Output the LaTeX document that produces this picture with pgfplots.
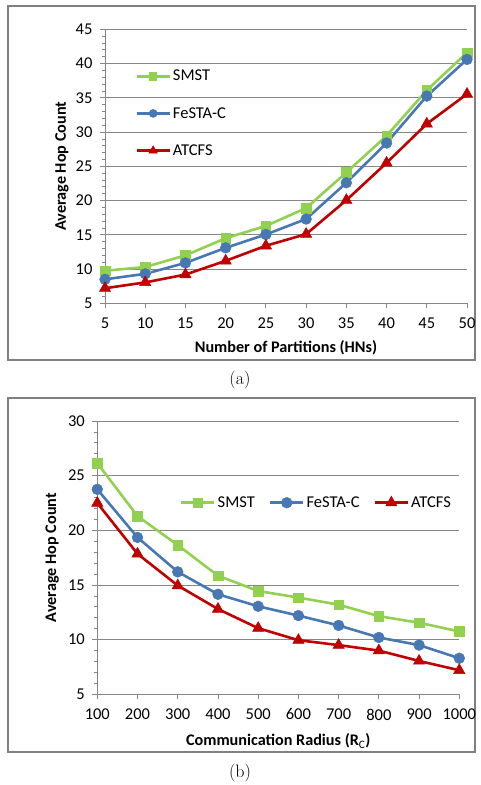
\documentclass[border=0pt]{standalone}
\usepackage{pgfplots}
\pgfplotsset{compat=1.18}
\usepackage{fontspec}
\newfontfamily\calibri{Carlito}
\definecolor{smst}{RGB}{146,208,80}
\definecolor{festa}{RGB}{72,120,180}
\definecolor{atcfs}{RGB}{192,0,0}
\definecolor{gridc}{RGB}{134,134,134}
\definecolor{framec}{RGB}{128,128,128}

\pgfplotstableread{
x smst festa atcfs
5  9.75 8.5  7.2
10 10.3 9.3  8.05
15 12.0 10.9 9.2
20 14.5 13.1 11.2
25 16.3 15.05 13.4
30 18.9 17.3 15.1
35 24.1 22.6 20.05
40 29.45 28.4 25.5
45 36.1 35.25 31.2
50 41.6 40.6 35.55
}\tabA

\pgfplotstableread{
x smst festa atcfs
100  26.15 23.75 22.5
200  21.3  19.35 17.85
300  18.65 16.2  14.95
400  15.85 14.15 12.8
500  14.45 13.05 11.05
600  13.85 12.2  9.95
700  13.2  11.3  9.5
800  12.15 10.2  9.0
900  11.55 9.5   8.05
1000 10.75 8.3   7.2
}\tabB

\newcommand{\lblfont}{\calibri\bfseries\fontsize{16.2}{17}\selectfont}

\pgfplotsset{
 hopstyle/.style={
  scale only axis, clip=false,
  axis lines*=left,
  axis line style={gridc, line width=0.8pt},
  tick style={gridc, line width=0.8pt},
  tick align=outside,
  major tick length=5pt, minor tick length=3pt,
  ymajorgrids, major grid style={gridc, line width=0.8pt},
  ymin=5,
  minor y tick num=4,
  /pgf/number format/assume math mode=true,
  /pgf/number format/1000 sep={},
  tick label style={font=\calibri\fontsize{16.5}{17}\selectfont, text=black},
  xticklabel style={yshift=-6pt},
  yticklabel style={xshift=-4pt},
  legend style={draw=none, fill=none, font=\calibri\fontsize{16.5}{17}\selectfont, text=black},
  legend cell align=left,
 },
 stSM/.style={color=smst, line width=2.6pt, mark=square*, mark size=4.8pt, mark options={line width=0.5pt}},
 stFE/.style={color=festa, line width=2.6pt, mark=*, mark size=5.4pt, mark options={line width=0.5pt}},
 stAT/.style={color=atcfs, line width=2.6pt, mark=triangle*, mark size=6.5pt, mark options={line width=0.5pt}},
}

\begin{document}
\begin{tikzpicture}
\path[use as bounding box] (0pt,0pt) rectangle (480pt,-785pt);
\draw[framec, line width=1.2pt] (8pt,-6pt) rectangle (475pt,-360pt);
\draw[framec, line width=1.2pt] (8pt,-398pt) rectangle (475pt,-752pt);
\node[font=\fontsize{18}{18}\selectfont] at (240pt,-380pt) {(a)};
\node[font=\fontsize{18}{18}\selectfont] at (240pt,-773pt) {(b)};

\begin{axis}[hopstyle, at={(105pt,-303.3pt)}, anchor=south west,
  width=362pt, height=274pt,
  xmin=5, xmax=50, ymax=45,
  xtick={5,10,...,50}, ytick={5,10,...,45},
  xlabel={\lblfont Number of Partitions (HNs)},
  xlabel style={at={(axis description cs:0.5,-0.1631)}, anchor=center},
  legend image code/.code={\draw[mark repeat=2,mark phase=2, every mark/.append style={scale=0.75}] plot coordinates {(0pt,0pt)(16.5pt,0pt)(33pt,0pt)};},
  legend style={at={(rel axis cs:0.075,0.693)}, anchor=west, row sep=21pt},
]
\addplot[stSM] table[x=x,y=smst] {\tabA};
\addlegendentry{SMST}
\addplot[stFE] table[x=x,y=festa] {\tabA};
\addlegendentry{FeSTA-C}
\addplot[stAT] table[x=x,y=atcfs] {\tabA};
\addlegendentry{ATCFS}
\node[rotate=90, font=\lblfont] at (rel axis cs:-0.1188,0.5) {Average Hop Count};
\end{axis}

\begin{axis}[hopstyle, at={(97.3pt,-694.3pt)}, anchor=south west,
  width=362pt, height=273.3pt,
  xmin=100, xmax=1000, ymax=30,
  xtick={100,200,...,1000}, ytick={5,10,...,30},
  xlabel={\lblfont Communication Radius (R\textsubscript{\mdseries C})},
  xlabel style={at={(axis description cs:0.5,-0.1709)}, anchor=center},
  legend columns=3,
  legend image code/.code={\draw[mark repeat=2,mark phase=2] plot coordinates {(0pt,0pt)(16.5pt,0pt)(33pt,0pt)};},
  legend style={at={(rel axis cs:0.22,0.701)}, anchor=west, /tikz/every even column/.append style={column sep=12pt}},
]
\addplot[stSM] table[x=x,y=smst] {\tabB};
\addlegendentry{SMST}
\addplot[stFE] table[x=x,y=festa] {\tabB};
\addlegendentry{FeSTA-C}
\addplot[stAT] table[x=x,y=atcfs] {\tabB};
\addlegendentry{ATCFS}
\node[rotate=90, font=\lblfont] at (rel axis cs:-0.1243,0.5) {Average Hop Count};
\end{axis}
\end{tikzpicture}
\end{document}
